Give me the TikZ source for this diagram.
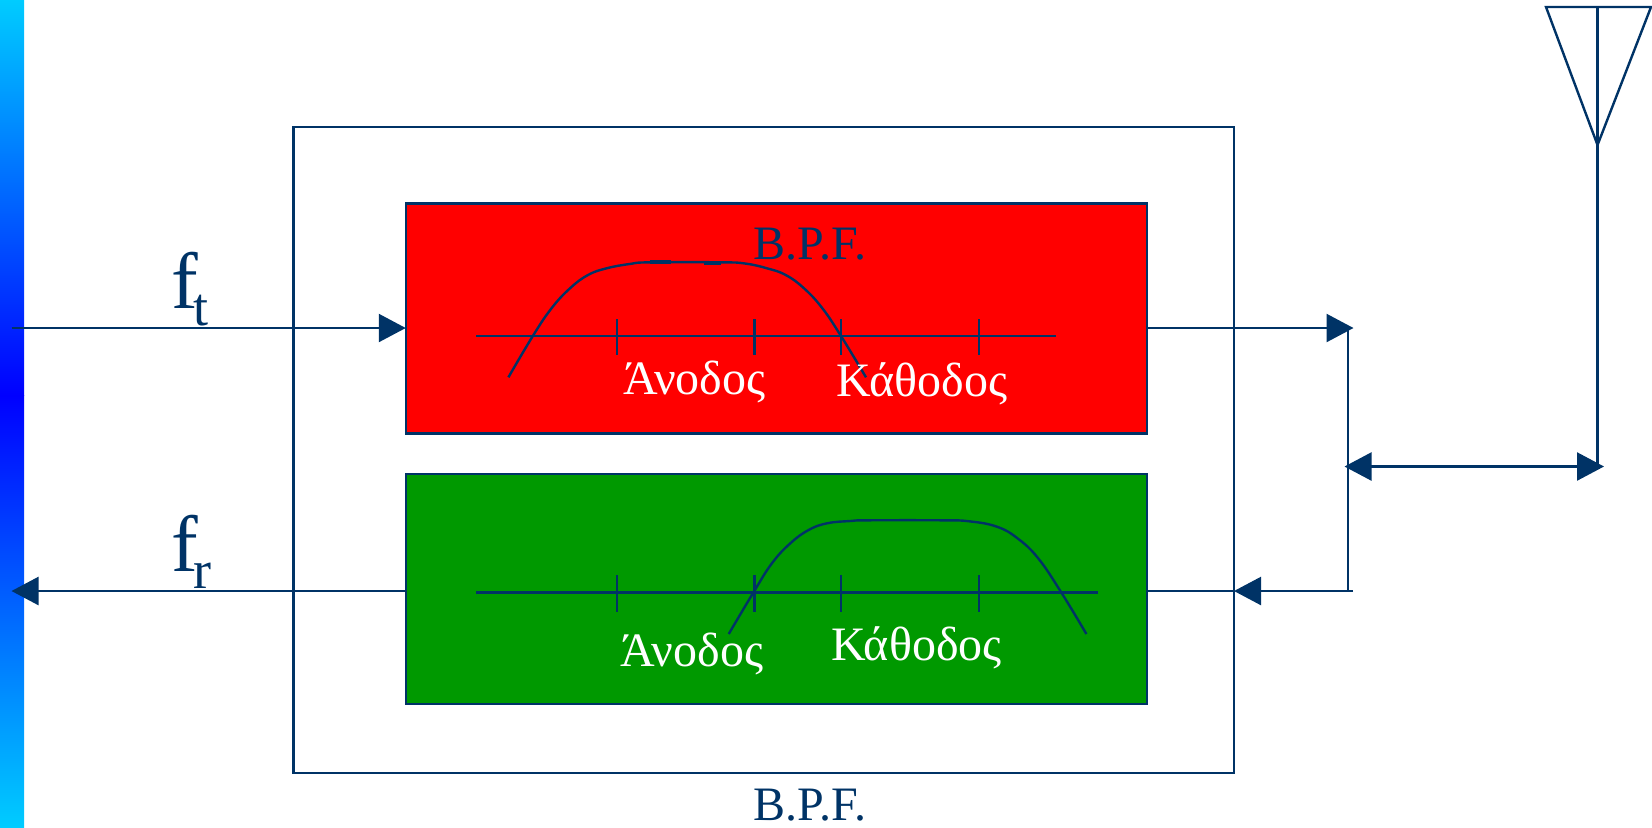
\documentclass[tikz,border=0pt]{standalone}
\usepackage{fontspec}
\setmainfont{Liberation Serif}
\usetikzlibrary{arrows.meta}
\definecolor{navy}{HTML}{003366}
\definecolor{barcyan}{HTML}{00CCFF}
\definecolor{bpfgreen}{HTML}{009900}
\newcommand{\freq}[2]{\fontsize{40}{40}\selectfont f\kern-2.5pt\raisebox{#1}{\fontsize{27}{27}\selectfont #2}}
\tikzset{
  wire/.style={draw=navy,line width=1.2pt},
  sig/.style={wire,-{Triangle[length=13.5pt,width=14pt]}},
  bpfbox/.style={wire,rectangle,inner sep=0pt,outer sep=0pt,minimum width=370.75pt,minimum height=115pt},
  band/.style={anchor=base west,inner sep=0pt,text=white,font=\fontsize{24}{24}\selectfont},
  bpflabel/.style={anchor=base west,inner sep=0pt,text=navy,font=\fontsize{24}{24}\selectfont},
  freqlabel/.style={anchor=base west,inner sep=0pt,text=navy}
}
\begin{document}
\begin{tikzpicture}[x=0.5pt,y=-0.5pt]
\useasboundingbox (0,0) rectangle (1652,827);
\shade[top color=barcyan,bottom color=blue] (0,0) rectangle (24,395);
\shade[top color=blue,bottom color=barcyan] (0,395) rectangle (24,827);

\node[wire,rectangle,inner sep=0pt,outer sep=0pt,minimum width=470.25pt,minimum height=322.75pt] (outer) at (763.75,450) {};
\node[bpfbox,fill=red] (txbpf) at (776.5,318.5) {};
\node[bpfbox,fill=bpfgreen] (rxbpf) at (776.5,589) {};

\coordinate (ftin) at (11.5,328);
\coordinate (frout) at (11.5,591);
\coordinate (txtip) at (1353.5,328);
\coordinate (rxend) at (1353,591);
\coordinate (rail) at (1348,591);
\coordinate (duptip) at (1344.5,466.5);
\coordinate (anttip) at (1604,466.5);
\coordinate (antfoot) at (1597.5,466.5);
\coordinate (antapex) at (1597.5,145);
\coordinate (anttop) at (1597.5,7);
\coordinate (antleft) at (1546,7);
\coordinate (antright) at (1651,7);

\draw[sig] (ftin) -- (ftin -| txbpf.west);
\draw[sig] (ftin -| txbpf.east) -- (txtip);
\draw[sig] (rxbpf.west |- frout) -- (frout);
\draw[wire] (rxbpf.east |- frout) -- (outer.east |- frout);
\draw[sig] (rxend) -- (outer.east |- frout);
\draw[wire] (rail) -- (rail |- txtip);
\draw[{Triangle[length=13.5pt,width=14pt]}-{Triangle[length=13.5pt,width=14pt]},wire] (duptip) -- (anttip);
\draw[wire] (antfoot) -- (anttop);
\draw[wire,line join=miter] (antapex) -- (antleft) -- (antright) -- cycle;

\draw[wire] (476,335.7) -- (1055.6,335.7);
\draw[wire] (476,592.3) -- (1098,592.3);
\foreach \tickx in {616.7,754.5,840.8,979} {
  \draw[wire] (\tickx,319) -- (\tickx,355);
  \draw[wire] (\tickx,575) -- (\tickx,612);
}
\draw[wire] plot[smooth,tension=0.7] coordinates {(508.4,377.3) (533,335.7) (551.5,308.3) (570,288.3) (588,275) (606.6,268.3) (629.6,264) (650,262.3) (721,262.3) (745,263.5) (767,268.3) (785.7,275) (804,288.3) (822.4,308.3) (840.8,335.7) (866,377.3)};
\draw[wire,line width=2pt] (650,262) -- (671,262);
\draw[wire,line width=2pt] (704,262.5) -- (721,262.5);
\draw[wire] plot[smooth,tension=0.7] coordinates {(728.7,634) (753.5,592.3) (771.9,563.3) (790.3,543.3) (808.6,530) (827,523.3) (850,521) (868.3,520.3) (941.8,520.3) (969.3,521.3) (996.9,526.7) (1017.5,538.3) (1038.2,558.3) (1061.2,592.3) (1086.4,634)};

\node[bpflabel] (txname) at (753.5,259.3) {B.P.F.};
\node[bpflabel] (outername) at (753.5,820) {B.P.F.};
\node[band] (txlow) at (622.7,394) {Άνοδος};
\node[band] (txhigh) at (836,396) {Κάθοδος};
\node[band] (rxlow) at (620.4,666.7) {Άνοδος};
\node[band] (rxhigh) at (830.7,660) {Κάθοδος};
\node[freqlabel] (ftlabel) at (171,308) {\freq{-8.5pt}{t}};
\node[freqlabel] (frlabel) at (171,571) {\freq{-8.5pt}{r}};
\end{tikzpicture}
\end{document}
